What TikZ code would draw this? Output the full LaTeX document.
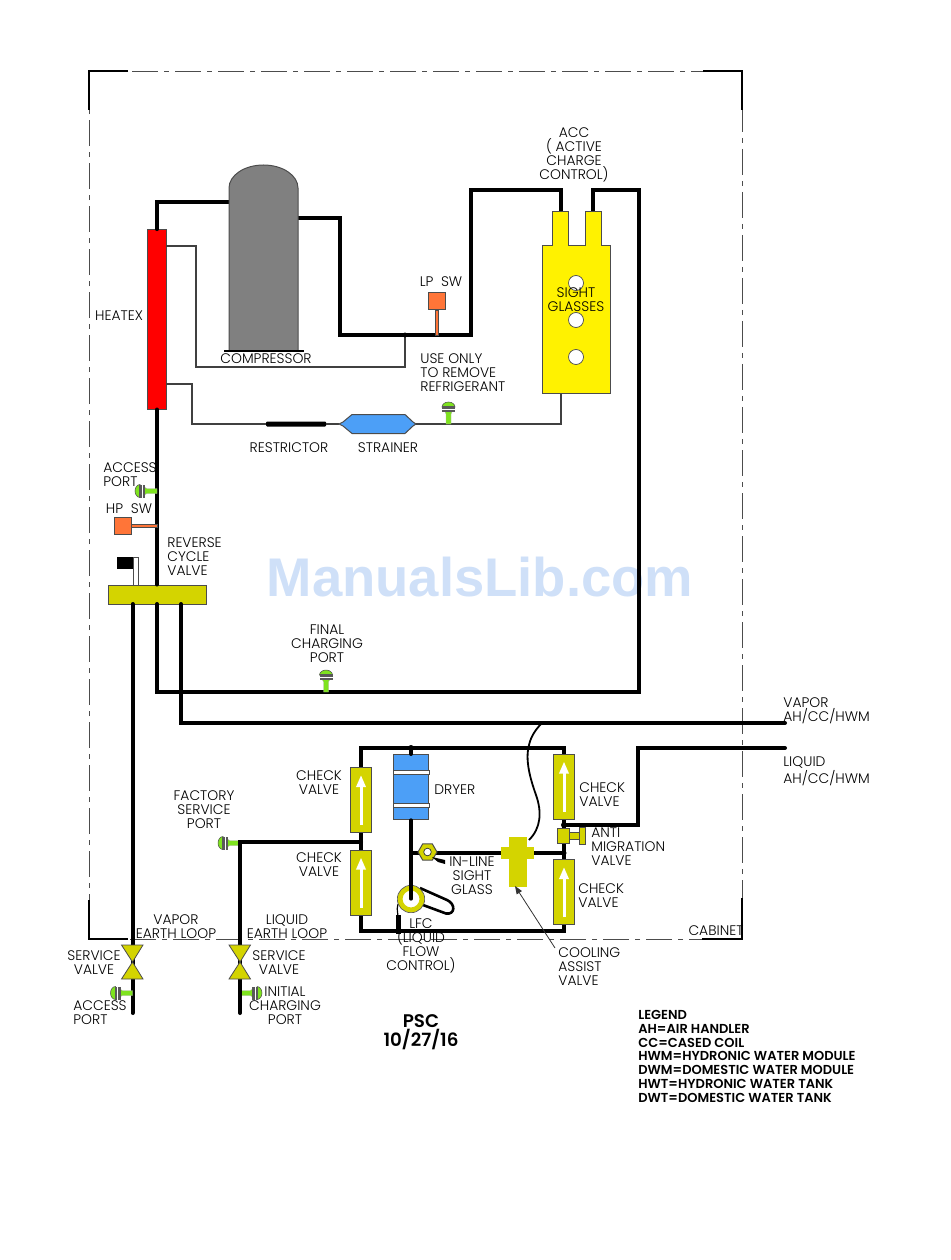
\documentclass[tikz,border=0pt]{standalone}
\usepackage{fontspec}
\setmainfont{Poppins}[UprightFont=* Light,BoldFont=* SemiBold]
\usetikzlibrary{arrows.meta}
\usetikzlibrary{shapes.geometric}
\definecolor{olivey}{HTML}{D4D400}
\definecolor{coolblue}{HTML}{4C9FF7}
\definecolor{swred}{HTML}{FF7538}
\definecolor{portgreen}{HTML}{7EE31E}
\definecolor{markblue}{HTML}{CFE0F8}
\newcommand{\px}{0.02cm}
\tikzset{
  pipe/.style={draw=black,line width=4*\px,line cap=round,line join=miter},
  pipelight/.style={draw=black,line width=3.2*\px,line cap=round,line join=miter},
  capline/.style={draw=black!75,line width=1.1*\px},
  cabinet/.style={draw=black!70,line width=0.9*\px,dash pattern=on 26*\px off 6*\px on 5*\px off 6*\px},
  cabcorner/.style={draw=black,line width=2.6*\px},
  lab/.style={font=\fontsize{7.9}{7.95}\selectfont,text=black,inner sep=0pt,align=center},
  labl/.style={lab,align=left,anchor=west},
  legend/.style={font=\fontsize{7.4}{7.85}\selectfont\bfseries,text=black,inner sep=0pt,align=left,anchor=north west},
  box/.style={draw=black!70,line width=1*\px,inner sep=0pt},
  checkvalve/.style={box,fill=olivey,minimum width=21*\px,minimum height=65*\px},
  flowarrow/.style={-{Triangle[width=9*\px,length=12*\px]},draw=white,line width=3*\px},
  swbox/.style={box,fill=swred,minimum width=17*\px,minimum height=17*\px},
  swstem/.style={draw=black!70,fill=swred,line width=0.5*\px},
  chargeport/.pic={
    \path[fill=portgreen,draw=black!30,line width=0.3*\px] (-2.5,0) -- (-2.5,-10) -- (-4,-13) -- (4,-13) -- (2.5,-10) -- (2.5,0) -- cycle;
    \path[fill=portgreen,draw=black!70,line width=0.5*\px] (-6.5,-17) arc[start angle=180,end angle=0,x radius=6.5,y radius=-5] -- cycle;
    \fill[black!65] (-6.5,-18) rectangle (6.5,-15.5);
    \fill[white] (-6.5,-15.5) rectangle (6.5,-14.5);
    \fill[black!65] (-6.5,-14.5) rectangle (6.5,-12);
  },
}
\begin{document}
\begin{tikzpicture}[x=\px,y=-\px]
\useasboundingbox (0,0) rectangle (950,1260);
% cabinet outline
\coordinate (cabtl) at (89,71);
\coordinate (cabtr) at (742,71);
\coordinate (cabbr) at (742,939);
\coordinate (cabbl) at (89,939);
\draw[cabinet] (cabtl) -- (cabtr) -- (cabbr) -- (cabbl) -- cycle;
\draw[cabcorner] (128,71) -- (cabtl) -- (89,110);
\draw[cabcorner] (703,71) -- (cabtr) -- (742,110);
\draw[cabcorner] (128,939) -- (cabbl) -- (89,900);
\draw[cabcorner] (702,939) -- (cabbr) -- (742,898);
% watermark
\node[font=\fontsize{31}{31}\selectfont,text=markblue,inner sep=0pt] (manuals) at (480,577) {\fontspec{Liberation Sans Bold}ManualsLib.com};

% main refrigerant pipes
\coordinate (compin) at (229,202);
\coordinate (compout) at (298,218);
\coordinate (acca) at (561,212);
\coordinate (accb) at (593,212);
\coordinate (lowdot) at (405,335);
\coordinate (suct) at (471,335);
\node[box,fill=red,minimum width=19*\px,minimum height=179*\px] (heatex) at (157,319.5) {};
\node[box,fill=olivey,minimum width=98*\px,minimum height=19*\px] (rcv) at (157,594.5) {};
\coordinate (rcvleft) at (132.5,604);
\coordinate (rcvmid) at (157,604);
\coordinate (rcvright) at (181,604);
\draw[pipelight] (heatex.north) |- (compin);
\draw[pipe] (compout) -| (340,335) -- (suct) |- (acca |- 0,190) -- (acca);
\draw[pipe] (accb) |- (639,190) |- (157,692) -- (rcvmid);
\draw[pipe] (heatex.south) -- (rcv.north);
\draw[pipe] (rcvright) |- (785,723);
\draw[pipe] (rcvleft) -- (132.5,1013);

% compressor
\path[draw=black!70,fill=black!50,line width=1*\px] (229,351) -- (229,188) arc[start angle=180,end angle=0,x radius=34.5,y radius=-23] -- (298,351) -- cycle;
\draw[black,line width=2*\px] (224,351) -- (304,351);
\node[lab] (lcomp) at (266,359) {COMPRESSOR};
\node[lab] (lheatex) at (119,316) {HEATEX};

% thin capillary lines
\draw[capline] (166,246) -| (196,367) -| (lowdot);
\fill (lowdot) circle (2.5);
\node[draw=none,fill=black,inner sep=0pt,minimum width=60*\px,minimum height=5*\px,rounded corners=1*\px] (restr) at (296,424) {};
\coordinate (accout) at (561,393);
\draw[capline] (166,384) -| (192,424) -- (restr);
\draw[capline] (restr) -- (339,424);
\path[draw=black!70,fill=coolblue,line width=1*\px] (339,424) -- (343,422) -- (352,414.5) -- (405,414.5) -- (413,422) -- (416,424) -- (413,426) -- (405,433.5) -- (352,433.5) -- (343,426) -- cycle;
\coordinate (strainerout) at (416,424);
\draw[capline] (strainerout) -| (accout);
\node[lab] (lrestr) at (289,448) {RESTRICTOR};
\node[lab] (lstrain) at (388,448) {STRAINER};

% ACC
\path[draw=black!70,fill=yellow,line width=1*\px] (542,393) -- (542,246) -- (552.7,246) -- (552.7,212) -- (568,212) -- (568,246) -- (585,246) -- (585,212) -- (601,212) -- (601,246) -- (610,246) -- (610,393) -- cycle;
\foreach \yy in {283,320,357}
  \draw[fill=white,draw=black!70,line width=0.7*\px] (576,\yy) circle (7.5);
\node[lab] (lsight) at (576,299.5) {SIGHT\\GLASSES};
\node[lab] (lacc) at (574,155) {ACC\\( ACTIVE\\CHARGE\\CONTROL)};

% switches
\node[swbox] (lpsw) at (436.5,301.5) {};
\path[swstem] (435.5,310) rectangle (438.5,335);
\node[lab] (llpsw) at (441,282) {LP\ \ SW};
\node[swbox] (hpsw) at (122.5,525.5) {};
\path[swstem] (131,524.5) rectangle (157,527.5);
\node[lab] (lhpsw) at (129,509) {HP\ \ SW};
\node[labl] (luse) at (420,373) {USE ONLY\\TO REMOVE\\REFRIGERANT};
\node[labl] (laccess) at (103,474.5) {ACCESS\\PORT};
\node[labl] (lrev) at (167,557) {REVERSE\\CYCLE\\VALVE};
\node[lab] (lfinal) at (327,644) {FINAL\\CHARGING\\PORT};

% reverse cycle valve pilot
\fill[black] (117,557) rectangle (133,569);
\path[draw=black!70,fill=white,line width=1*\px] (133,557) rectangle (138,585);

% charging ports
\path (448.5,424) pic {chargeport};
\path (326,692) pic {chargeport};
\path (157,491) pic[rotate=90] {chargeport};
\path (240,843) pic[rotate=90] {chargeport};
\path (132.5,993) pic[rotate=90] {chargeport};
\path (240,993) pic[rotate=-90] {chargeport};

% liquid side loop
\coordinate (looptl) at (361,748);
\coordinate (looptr) at (564,748);
\coordinate (loopbl) at (361,931);
\coordinate (loopbr) at (564,931);
\draw[pipe] (loopbl) -- (looptl) -- (looptr) -- (loopbr) -- cycle;
\draw[pipe] (240,1013) -- (240,842) -- (361,842);
\draw[pipe] (564,825) -| (638,748) -- (785,748);
\fill[black] (564,825) circle (3);
\node[checkvalve] (cv1) at (361,800) {};
\node[checkvalve] (cv2) at (361,882.5) {};
\node[checkvalve] (cv3) at (564,786.5) {};
\node[checkvalve] (cv4) at (564,892) {};
\foreach \cvname in {cv1,cv2,cv3,cv4}
  \draw[flowarrow] ([yshift=8*\px]\cvname.south) -- ([yshift=-8*\px]\cvname.north);

% dryer
\node[box,fill=coolblue,minimum width=35*\px,minimum height=65*\px] (dryer) at (411,787) {};
\fill[black] (411,748) circle (3);
\draw[fill=white,draw=black!70,line width=0.5*\px] (393,770.5) rectangle (429.5,774.5);
\draw[fill=white,draw=black!70,line width=0.5*\px] (393,803.5) rectangle (429.5,807.5);
\draw[pipe] (dryer.north) -- (411,748);

% LFC
\draw[black,line width=2.6*\px,fill=white] (420,888) -- (447,900) .. controls (456,904) and (455,915) .. (446,913.5) -- (423,905);
\draw[black,line width=1.2*\px] (398,904) .. controls (397,908) .. (398,916);
\fill[black] (396,915) rectangle (401,934);
\node[circle,draw=olivey,line width=5*\px,fill=white,minimum size=22*\px,inner sep=0pt] (lfc) at (411,899) {};
\draw[black!70,line width=0.6*\px] (lfc.center) circle (13.7);
\draw[pipelight] (dryer.south) -- (lfc.center);
\coordinate (lfcfeed) at (411,853);

% sight glass and cooling assist valve
\coordinate (cavin) at (564,853);
\fill[black] (cavin) circle (2.5);
\draw[pipelight] (lfcfeed) -- (cavin);
\node[regular polygon,regular polygon sides=6,box,fill=olivey,minimum size=19*\px,draw=black!70] (slass) at (427.5,852) {};
\fill[white,draw=black!80,line width=0.7*\px] (slass.center) circle (3.8);
\path[fill=black] (432,857) -- (445,860) -- (445,864) -- (438,862) -- cycle;
\path[draw=olivey,fill=olivey,line width=0.5*\px] (501,847) -- (509,847) -- (509,837) -- (526,837) -- (526,847) -- (533,847) -- (533,858) -- (526,858) -- (526,886) -- (509,886) -- (509,858) -- (501,858) -- cycle;
\coordinate (cavtop) at (529,840);
\draw[black,line width=1.8*\px] (cavtop) .. controls (541,828) and (542,812) .. (536,795) .. controls (530,778) and (525,760) .. (529,745) .. controls (531,736) and (536,729) .. (542,723);
\coordinate (cavlow) at (515,886);
\coordinate (cavlab) at (555,948);
\draw[black!80,line width=0.8*\px,-{Triangle[width=6*\px,length=8*\px]}] (cavlab) -- (cavlow);

% anti migration valve
\node[box,fill=olivey,minimum width=12*\px,minimum height=15*\px] (amv) at (563,835.5) {};
\node[box,fill=olivey,minimum width=10*\px,minimum height=7*\px] (amvs) at (574,836) {};
\node[box,fill=olivey,minimum width=6*\px,minimum height=17*\px] (amvh) at (582,835.5) {};

% service valves
\foreach \xx/\vname in {132.5/vv,240/lv}{
  \coordinate (\vname) at (\xx,962);
  \path[draw=black!70,fill=olivey,line width=0.8*\px] (\xx-11,945) -- (\xx+10.5,945) -- (\vname) -- (\xx+10.5,979) -- (\xx-11,979) -- (\vname) -- cycle;
}

% labels, lower half
\node[lab] (lcv1) at (319,783) {CHECK\\VALVE};
\node[lab] (lcv2) at (319,865) {CHECK\\VALVE};
\node[labl] (lcv3) at (579,795) {CHECK\\VALVE};
\node[labl] (lcv4) at (578,896) {CHECK\\VALVE};
\node[labl] (ldryer) at (434,790) {DRYER};
\node[labl] (lamv) at (591,847) {ANTI\\MIGRATION\\VALVE};
\node[lab] (lsg) at (472,876) {IN-LINE\\SIGHT\\GLASS};
\node[lab] (llfc) at (421,946) {LFC\\(LIQUID\\FLOW\\CONTROL)};
\node[labl] (lcav) at (558,967) {COOLING\\ASSIST\\VALVE};
\node[lab] (lfsp) at (204,809.5) {FACTORY\\SERVICE\\PORT};
\node[lab] (lvel) at (176,927) {VAPOR\\EARTH LOOP};
\node[lab] (llel) at (287,927) {LIQUID\\EARTH LOOP};
\node[lab] (lsv1) at (94,962.5) {SERVICE\\VALVE};
\node[lab] (lsv2) at (279,962.5) {SERVICE\\VALVE};
\node[labl] (lap) at (73,1013) {ACCESS\\PORT};
\node[lab] (licp) at (285,1006) {INITIAL\\CHARGING\\PORT};
\node[labl] (lvap) at (783,711) {VAPOR\\AH/CC/HWM};
\node[labl] (lliq) at (783,771) {LIQUID\\AH/CC/HWM};
\node[lab] (lcab) at (716,931) {CABINET};

% title and legend
\node[font=\fontsize{10.4}{10.9}\selectfont\bfseries,inner sep=0pt,align=center] (ltitle) at (421,1032) {PSC\\10/27/16};
\node[legend] (llegend) at (638,1010) {LEGEND\\AH=AIR HANDLER\\CC=CASED COIL\\HWM=HYDRONIC WATER MODULE\\DWM=DOMESTIC WATER MODULE\\HWT=HYDRONIC WATER TANK\\DWT=DOMESTIC WATER TANK};
\end{tikzpicture}
\end{document}
